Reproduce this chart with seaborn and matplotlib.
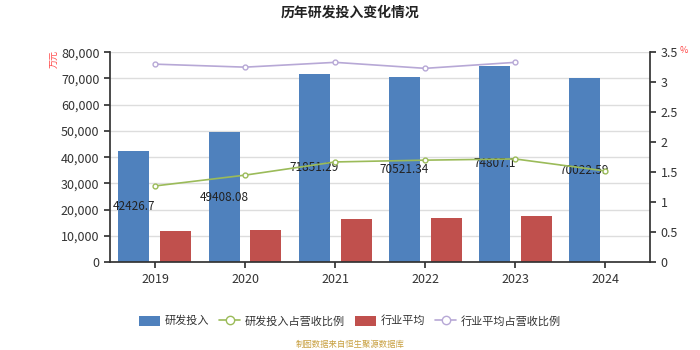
import numpy as np
import pandas as pd
import matplotlib
matplotlib.use("Agg")
import matplotlib.pyplot as plt
import seaborn as sns
from matplotlib.lines import Line2D
from matplotlib.patches import Patch

years = ["2019", "2020", "2021", "2022", "2023", "2024"]
rd_invest = [42426.7, 49408.08, 71851.29, 70521.34, 74807.1, 70022.59]
industry_avg = [11800, 12200, 16400, 16800, 17500, np.nan]
rd_ratio = [1.27, 1.45, 1.67, 1.70, 1.72, 1.52]
industry_ratio = [3.30, 3.25, 3.33, 3.23, 3.33, np.nan]
rd_labels = ["42426.7", "49408.08", "71851.29", "70521.34", "74807.1", "70022.59"]

sns.set_theme(style="white")
plt.rcParams['font.family'] = ['Noto Sans CJK SC', 'DejaVu Sans']
plt.rcParams['axes.unicode_minus'] = False

C_BLUE = "#4f81bd"
C_RED = "#c0504d"
C_GREEN = "#9bbb59"
C_PURPLE = "#b7a8d6"

df_bar = pd.DataFrame({
    "year": years * 2,
    "value": rd_invest + industry_avg,
    "series": ["研发投入"] * 6 + ["行业平均"] * 6,
})

fig = plt.figure(figsize=(7, 3.5), dpi=100)
ax = fig.add_axes([0.157, 0.251, 0.772, 0.6])

sns.barplot(data=df_bar, x="year", y="value", hue="series", order=years,
            palette=[C_BLUE, C_RED], width=0.93, gap=0.26, ax=ax,
            legend=False, saturation=1, edgecolor="none")

ax.set_ylim(0, 80000)
ax.set_yticks(np.arange(0, 80001, 10000))
ax.set_yticklabels([f"{v:,}" for v in range(0, 80001, 10000)], fontsize=9, color="#333333")
ax.set_xlabel("")
ax.set_ylabel("")
ax.tick_params(axis="x", labelsize=9, colors="#333333", length=4, direction="out", bottom=True)
ax.tick_params(axis="y", length=4, direction="out", left=True, color="#333333")
ax.yaxis.grid(True, color="#dddddd", linewidth=1)
ax.set_axisbelow(True)
for s in ["top", "right"]:
    ax.spines[s].set_visible(False)
ax.spines["left"].set_color("#333333")
ax.spines["bottom"].set_color("#333333")

ax.bar_label(ax.containers[0], labels=rd_labels, label_type="center",
             fontsize=8.5, color="#222222")

ax2 = ax.twinx()
df_line = pd.DataFrame({"year": years, "rd_ratio": rd_ratio, "ind_ratio": industry_ratio})
sns.lineplot(data=df_line, x="year", y="rd_ratio", ax=ax2, color=C_GREEN, linewidth=1.2,
             marker="o", markersize=3.5, markerfacecolor="white", markeredgecolor=C_GREEN,
             markeredgewidth=1, sort=False)
sns.lineplot(data=df_line.dropna(), x="year", y="ind_ratio", ax=ax2, color=C_PURPLE, linewidth=1.2,
             marker="o", markersize=3.5, markerfacecolor="white", markeredgecolor=C_PURPLE,
             markeredgewidth=1, sort=False)
ax2.set_ylim(0, 3.5)
ax2.set_yticks(np.arange(0, 3.51, 0.5))
ax2.set_yticklabels(["0", "0.5", "1", "1.5", "2", "2.5", "3", "3.5"], fontsize=9, color="#333333")
ax2.set_ylabel("")
ax2.set_xlabel("")
ax2.tick_params(axis="y", length=4, direction="out", right=True, color="#333333")
for s in ["top", "left", "bottom"]:
    ax2.spines[s].set_visible(False)
ax2.spines["right"].set_color("#333333")
ax2.set_xlim(-0.5, 5.5)
ax.set_xlim(-0.5, 5.5)

fig.text(0.5, 0.965, "历年研发投入变化情况", ha="center", va="center",
         fontsize=10, fontweight="bold", color="#222222")
fig.text(0.078, 0.83, "万元", rotation=90, ha="center", va="center", fontsize=6.5, color="#ff4444")
fig.text(0.977, 0.855, "%", ha="center", va="center", fontsize=6.5, color="#ff4444")

handles = [
    Patch(facecolor=C_BLUE, edgecolor="none"),
    Line2D([0], [0], color=C_GREEN, marker="o", markerfacecolor="white", markersize=6, linewidth=1.2),
    Patch(facecolor=C_RED, edgecolor="none"),
    Line2D([0], [0], color=C_PURPLE, marker="o", markerfacecolor="white", markersize=6, linewidth=1.2),
]
labels = ["研发投入", "研发投入占营收比例", "行业平均", "行业平均占营收比例"]
fig.legend(handles, labels, loc="center", bbox_to_anchor=(0.5, 0.083), ncol=4, frameon=False,
           fontsize=8, handlelength=1.9, handleheight=1.0, columnspacing=0.9, handletextpad=0.4,
           labelcolor="#333333")
fig.text(0.5, 0.017, "制图数据来自恒生聚源数据库", ha="center", va="center", fontsize=6, color="#c8a040")

fig.savefig("out.png", dpi=100)
